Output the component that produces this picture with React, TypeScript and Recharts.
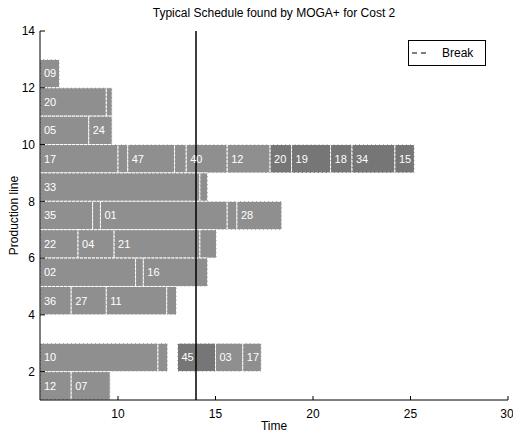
import React from 'react';
import {
  ComposedChart,
  XAxis,
  YAxis,
  ReferenceArea,
  ReferenceLine,
  Legend,
  Label,
} from 'recharts';

// Production lines (rows) in the schedule
const lineNumbers = [12, 11, 10, 9, 8, 7, 6, 5, 4, 2, 1];

// Job names per line ("" = unlabelled short task)
const jobNames: string[][] = [
  ['09'],
  ['20', ''],
  ['05', '24'],
  ['17', '', '47', '', '40', '12', '20', '19', '18', '34', '15'],
  ['33', ''],
  ['35', '', '01', '', '28'],
  ['22', '04', '21', ''],
  ['02', '', '16'],
  ['36', '27', '11', ''],
  ['10', '', '45', '03', '17'],
  ['12', '07'],
];

// Start times per job
const jobStarts: number[][] = [
  [6],
  [6, 9.4],
  [6, 8.5],
  [6, 10.0, 10.5, 12.9, 13.5, 15.6, 17.8, 18.9, 20.9, 22.0, 24.2],
  [6, 14.2],
  [6, 8.7, 9.1, 15.6, 16.1],
  [6, 7.95, 9.8, 14.2],
  [6, 10.9, 11.3],
  [6, 7.6, 9.4, 12.5],
  [6, 12.05, 13.05, 15.0, 16.4],
  [6, 7.6],
];

// End times per job
const jobEnds: number[][] = [
  [7.0],
  [9.4, 9.7],
  [8.5, 9.7],
  [10.0, 10.5, 12.9, 13.5, 15.6, 17.8, 18.9, 20.9, 22.0, 24.2, 25.2],
  [14.2, 14.6],
  [8.7, 9.1, 15.6, 16.1, 18.4],
  [7.95, 9.8, 14.2, 15.05],
  [10.9, 11.3, 14.6],
  [7.6, 9.4, 12.5, 13.0],
  [12.05, 12.55, 15.0, 16.4, 17.35],
  [7.6, 9.6],
];

const breakTime = 14;
const xTicks = [10, 15, 20, 25, 30];
const yTicks = [2, 4, 6, 8, 10, 12, 14];
const xDomain = [6, 30];
const yDomain = [1, 14];

// style: segments printed darker in the scan (line-index keys)
const darkStyleKeys = new Set(['9-6', '9-7', '9-8', '9-9', '9-10', '2-2']);
const FILL_LIGHT = '#8f8f8f';
const FILL_DARK = '#767676';

const FONT = '"Liberation Sans", Arial, Helvetica, sans-serif';

const BreakLegend = () => (
  <div
    style={{
      width: 76,
      height: 24,
      border: '1px solid #000',
      background: '#fff',
      display: 'flex',
      alignItems: 'center',
      fontFamily: FONT,
      fontSize: 12,
      color: '#000',
      boxSizing: 'content-box',
    }}
  >
    <svg width={28} height={10} style={{ marginLeft: 3 }}>
      <line x1={0} y1={5} x2={16} y2={5} stroke="#000" strokeWidth={1} strokeDasharray="5 4" />
    </svg>
    <span style={{ marginLeft: 2 }}>Break</span>
  </div>
);

const YLabel = (props: any) => {
  const vb = props.viewBox || { x: 0, y: 31, width: 40, height: 369 };
  const cx = vb.x + 14;
  const cy = vb.y + vb.height / 2;
  return (
    <text
      x={cx}
      y={cy}
      transform={`rotate(-90 ${cx} ${cy})`}
      textAnchor="middle"
      dominantBaseline="central"
      fontFamily={FONT}
      fontSize={12}
      fill="#000"
    >
      Production line
    </text>
  );
};

export default function App() {
  const areas: React.ReactNode[] = [];
  lineNumbers.forEach((line, r) => {
    jobNames[r].forEach((name, j) => {
      const dark = darkStyleKeys.has(`${line}-${j}`);
      areas.push(
        <ReferenceArea
          key={`${line}-${j}`}
          x1={jobStarts[r][j]}
          x2={jobEnds[r][j]}
          y1={line}
          y2={line + 1}
          fill={dark ? FILL_DARK : FILL_LIGHT}
          fillOpacity={1}
          stroke="#ffffff"
          strokeWidth={1}
          strokeDasharray="3 1"
          label={
            name
              ? {
                  value: name,
                  position: 'insideLeft',
                  offset: 4,
                  fill: '#ffffff',
                  fontSize: 11,
                  fontFamily: FONT,
                }
              : undefined
          }
        />
      );
    });
  });

  return (
    <div
      style={{
        position: 'absolute',
        left: 0,
        top: 0,
        width: 513,
        height: 433,
        fontFamily: FONT,
        background: '#fff',
      }}
    >
      <div
        style={{
          position: 'absolute',
          left: 0,
          width: 548,
          top: 6,
          textAlign: 'center',
          fontSize: 12,
          lineHeight: '14px',
          color: '#000',
          whiteSpace: 'nowrap',
          zIndex: 2,
        }}
      >
        Typical Schedule found by MOGA+ for Cost 2
      </div>
      <ComposedChart
        width={513}
        height={433}
        data={[]}
        margin={{ top: 31, right: 5, bottom: 0, left: 0 }}
      >
        <XAxis
          type="number"
          dataKey="t"
          domain={xDomain}
          ticks={xTicks}
          allowDataOverflow
          height={33}
          tickSize={-4}
          tickMargin={13}
          axisLine={{ stroke: '#000' }}
          tickLine={{ stroke: '#000' }}
          tick={{ fill: '#000', fontSize: 12, fontFamily: FONT }}
          label={{ value: 'Time', position: 'insideBottom', offset: 3, fill: '#000', fontSize: 12, fontFamily: FONT }}
        />
        <YAxis
          type="number"
          dataKey="line"
          domain={yDomain}
          ticks={yTicks}
          allowDataOverflow
          width={40}
          tickSize={-5}
          tickMargin={10}
          axisLine={{ stroke: '#000' }}
          tickLine={{ stroke: '#000' }}
          tick={{ fill: '#000', fontSize: 12, fontFamily: FONT }}
        >
          <Label content={YLabel} />
        </YAxis>
        {areas}
        <ReferenceLine x={breakTime} stroke="#000" strokeWidth={1.5} />
        <Legend
          layout="horizontal"
          verticalAlign="middle"
          align="center"
          content={() => <BreakLegend />}
          wrapperStyle={{ left: 408, top: 40, width: 80, height: 28 }}
        />
      </ComposedChart>
    </div>
  );
}
